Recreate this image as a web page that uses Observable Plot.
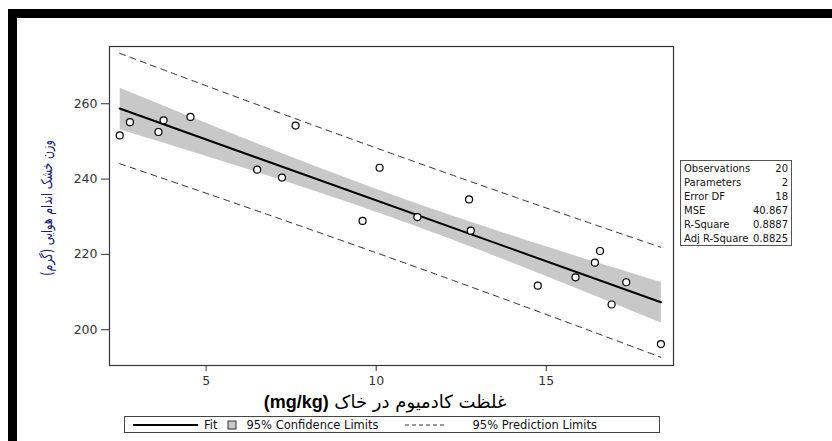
<!DOCTYPE html>
<html>
<head>
<meta charset="utf-8">
<script src="https://cdn.jsdelivr.net/npm/d3@7"></script>
<script src="https://cdn.jsdelivr.net/npm/@observablehq/plot@0.6"></script>
<style>
  html, body { margin: 0; padding: 0; background: #fff; }
  #wrap { position: relative; width: 832px; height: 441px; overflow: hidden; background: #fff; }
  #wrap svg { position: absolute; left: 0; top: 0; }
  .band { position: absolute; background: #000; }
  #ylab { position: absolute; left: 47px; top: 208px; transform: translate(-50%, -50%) rotate(-90deg) scaleX(0.74);
          white-space: nowrap; font-family: "DejaVu Sans", sans-serif; font-size: 15px; color: #1a2370; }
  #xlab { position: absolute; left: 385px; top: 402px; transform: translate(-50%, -50%);
          white-space: nowrap; font-family: "DejaVu Sans", sans-serif; font-size: 18px; color: #000; }
  #xlab b { font-family: "Liberation Sans", Arial, sans-serif; font-size: 18px; }
  #stats { position: absolute; left: 680px; top: 160px; width: 112px; height: 86px; border: 1px solid #555;
           font-family: "DejaVu Sans", sans-serif; font-size: 10px; color: #111; box-sizing: border-box; padding: 1px 3px 0 3px; }
  #stats .row { display: flex; justify-content: space-between; height: 14px; line-height: 14px; white-space: nowrap; }
  #legend { position: absolute; left: 124px; top: 416px; width: 536px; height: 17px; border: 1px solid #444; box-sizing: border-box;
            font-family: "DejaVu Sans", sans-serif; font-size: 11.5px; color: #111; display: flex; align-items: center; white-space: nowrap; }
</style>
</head>
<body>
<div id="wrap">
  <div class="band" style="left:8px;top:9px;width:824px;height:9px"></div>
  <div class="band" style="left:8px;top:9px;width:9px;height:432px"></div>
  <div id="ylab" dir="rtl"></div>
  <div id="xlab" dir="rtl"></div>
  <div id="stats"></div>
  <div id="legend"></div>
</div>
<script>
// ---- data ----
const cadmium = [2.46, 2.76, 3.60, 3.75, 4.54, 6.50, 7.23, 7.63, 9.60, 10.10,
                 11.21, 12.73, 12.78, 14.75, 15.86, 16.43, 16.58, 16.92, 17.35, 18.37];
const weight  = [251.6, 255.1, 252.5, 255.6, 256.5, 242.5, 240.4, 254.2, 228.9, 243.0,
                 229.9, 234.6, 226.3, 211.7, 213.9, 217.8, 220.9, 206.7, 212.6, 196.2];
const xTicks = [5, 10, 15];
const yTicks = [200, 220, 240, 260];
const statLabels = ["Observations", "Parameters", "Error DF", "MSE", "R-Square", "Adj R-Square"];
const statValues = ["20", "2", "18", "40.867", "0.8887", "0.8825"];
const xTitle = "غلظت کادمیوم در خاک ";
const xUnit = "(mg/kg)";
const yTitle = "وزن خشک اندام هوایی (گرم)";
const legendLabels = ["Fit", "95% Confidence Limits", "95% Prediction Limits"];
const tCrit = 2.100922; // t(0.975, df = 18)

const data = cadmium.map((x, i) => ({x, y: weight[i]}));

// ---- regression & prediction limits computed from the data ----
const n = data.length;
const mx = d3.mean(cadmium), my = d3.mean(weight);
const sxx = d3.sum(cadmium, x => (x - mx) ** 2);
const sxy = d3.sum(data, d => (d.x - mx) * (d.y - my));
const b = sxy / sxx, a = my - b * mx;
const mse = d3.sum(data, d => (d.y - a - b * d.x) ** 2) / (n - 2);
const s = Math.sqrt(mse);
const [x0, x1] = d3.extent(cadmium);
const grid = d3.range(0, 61).map(i => x0 + (x1 - x0) * i / 60);
const pi = grid.map(x => {
  const h = tCrit * s * Math.sqrt(1 + 1 / n + (x - mx) ** 2 / sxx);
  const f = a + b * x;
  return {x, lo: f - h, hi: f + h};
});

const chart = Plot.plot({
  width: 832,
  height: 441,
  marginLeft: 109,
  marginRight: 159,
  marginTop: 46,
  marginBottom: 76,
  style: {background: "transparent", fontFamily: "DejaVu Sans, sans-serif"},
  x: {domain: [2.16, 18.74]},
  y: {domain: [190.5, 275.2]},
  marks: [
    Plot.linearRegressionY(data, {x: "x", y: "y", ci: 0.95, fill: "#c8c8c8", fillOpacity: 1,
                                  stroke: "#000", strokeWidth: 2}),
    Plot.line(pi, {x: "x", y: "hi", stroke: "#333", strokeWidth: 1, strokeDasharray: "6,5"}),
    Plot.line(pi, {x: "x", y: "lo", stroke: "#333", strokeWidth: 1, strokeDasharray: "6,5"}),
    Plot.dot(data, {x: "x", y: "y", r: 3.5, stroke: "#000", strokeWidth: 1.2, fill: "#fff"}),
    Plot.frame({stroke: "#333", strokeWidth: 1.2}),
    Plot.axisX({ticks: xTicks, tickSize: 6, tickPadding: 5, fontSize: 12.5, label: null, color: "#333", tickFormat: d => d}),
    Plot.axisY({ticks: yTicks, tickSize: 8, tickPadding: 4, fontSize: 12.5, label: null, color: "#333", tickFormat: d => d})
  ]
});
document.getElementById("wrap").prepend(chart);

document.getElementById("ylab").textContent = yTitle;
const xl = document.getElementById("xlab");
xl.append(xTitle);
const bu = document.createElement("b"); bu.textContent = xUnit; xl.append(bu);

const st = document.getElementById("stats");
statLabels.forEach((l, i) => {
  const r = document.createElement("div"); r.className = "row";
  r.innerHTML = `<span>${l}</span><span>${statValues[i]}</span>`;
  st.append(r);
});

document.getElementById("legend").innerHTML =
  `<svg width="72" height="14" style="position:static;margin-left:7px"><line x1="1" x2="66" y1="7" y2="7" stroke="#000" stroke-width="2"/></svg>` +
  `<span>${legendLabels[0]}</span>` +
  `<svg width="20" height="14" style="position:static;margin-left:9px"><rect x="2" y="3" width="8" height="8" fill="#c8c8c8" stroke="#333" stroke-width="1"/></svg>` +
  `<span>${legendLabels[1]}</span>` +
  `<svg width="80" height="14" style="position:static;margin-left:14px"><line x1="12" x2="52" y1="7" y2="7" stroke="#333" stroke-width="1" stroke-dasharray="4,3"/></svg>` +
  `<span>${legendLabels[2]}</span>`;
</script>
</body>
</html>
